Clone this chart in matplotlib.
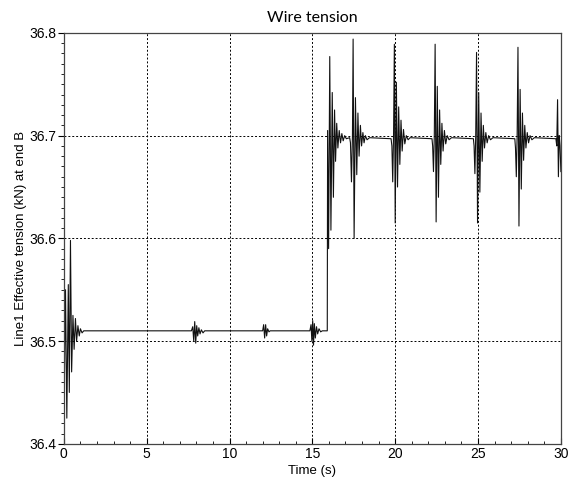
import matplotlib
matplotlib.use("Agg")
import matplotlib.pyplot as plt
from matplotlib.ticker import MultipleLocator

# time (s) and tension (kN)
time_s = [
    0.00, 0.10, 0.18, 0.27, 0.33, 0.40, 0.47, 0.55, 0.62, 0.70, 0.77, 0.85, 0.93, 1.00, 1.10, 1.20,
    7.70, 7.78, 7.84, 7.90, 7.96, 8.02, 8.08, 8.15, 8.22, 8.30, 8.40, 8.50,
    12.00, 12.06, 12.12, 12.18, 12.24, 12.30, 12.38, 12.45,
    14.85, 14.92, 14.97, 15.02, 15.07, 15.12, 15.18, 15.25, 15.32, 15.40, 15.50, 15.60,
    15.90, 15.92, 15.98, 16.05, 16.12, 16.20, 16.27, 16.34, 16.40, 16.47, 16.54, 16.62, 16.70, 16.78,
    16.86, 16.95, 17.05,
    17.25, 17.30, 17.36, 17.42, 17.46, 17.52, 17.60, 17.68, 17.75, 17.82, 17.90, 17.97, 18.05, 18.12,
    18.20, 18.30, 18.45,
    19.75, 19.80, 19.85, 19.90, 19.95, 20.00, 20.07, 20.14, 20.21, 20.28, 20.35, 20.42, 20.50, 20.58,
    20.67, 20.78, 20.90,
    22.22, 22.26, 22.31, 22.36, 22.41, 22.47, 22.54, 22.61, 22.68, 22.75, 22.82, 22.89, 22.97, 23.05,
    23.14, 23.25, 23.40,
    24.72, 24.76, 24.81, 24.86, 24.91, 24.97, 25.04, 25.11, 25.18, 25.25, 25.32, 25.39, 25.47, 25.55,
    25.64, 25.75, 25.90,
    27.22, 27.26, 27.31, 27.36, 27.41, 27.47, 27.54, 27.61, 27.68, 27.75, 27.82, 27.89, 27.97, 28.05,
    28.14, 28.25, 28.40,
    29.70, 29.75, 29.80, 29.85, 29.90, 29.95, 30.00,
]
tension_kn = [
    36.420, 36.550, 36.425, 36.555, 36.450, 36.598, 36.470, 36.525, 36.492, 36.522, 36.500, 36.515,
    36.505, 36.512, 36.508, 36.510,
    36.510, 36.514, 36.500, 36.519, 36.498, 36.515, 36.505, 36.513, 36.507, 36.511, 36.508, 36.510,
    36.510, 36.516, 36.503, 36.516, 36.505, 36.512, 36.509, 36.510,
    36.510, 36.516, 36.500, 36.520, 36.496, 36.517, 36.503, 36.514, 36.507, 36.512, 36.509, 36.510,
    36.510, 36.705, 36.590, 36.777, 36.608, 36.742, 36.640, 36.725, 36.675, 36.712, 36.688, 36.705,
    36.693, 36.702, 36.695, 36.700, 36.697,
    36.698, 36.693, 36.655, 36.700, 36.794, 36.600, 36.737, 36.662, 36.722, 36.680, 36.710, 36.690,
    36.703, 36.693, 36.700, 36.696, 36.698,
    36.697, 36.690, 36.655, 36.700, 36.789, 36.615, 36.752, 36.650, 36.728, 36.672, 36.715, 36.685,
    36.706, 36.692, 36.700, 36.696, 36.698,
    36.697, 36.690, 36.665, 36.700, 36.789, 36.616, 36.748, 36.640, 36.725, 36.672, 36.712, 36.685,
    36.705, 36.692, 36.700, 36.696, 36.698,
    36.697, 36.690, 36.663, 36.700, 36.781, 36.615, 36.742, 36.645, 36.722, 36.675, 36.710, 36.688,
    36.703, 36.693, 36.700, 36.696, 36.698,
    36.697, 36.688, 36.660, 36.700, 36.786, 36.612, 36.745, 36.648, 36.722, 36.676, 36.710, 36.688,
    36.703, 36.693, 36.700, 36.696, 36.698,
    36.697, 36.690, 36.735, 36.660, 36.700, 36.690, 36.665,
]

fig = plt.figure(figsize=(5.7, 4.84), dpi=100)
ax = fig.add_axes([0.112, 0.083, 0.872, 0.849])

ax.plot(time_s, tension_kn, color="#111111", lw=0.8)

# layout
ax.set_xlim(0, 30)
ax.set_ylim(36.4, 36.8)
ax.xaxis.set_major_locator(MultipleLocator(5))
ax.xaxis.set_minor_locator(MultipleLocator(1))
ax.yaxis.set_major_locator(MultipleLocator(0.1))
ax.yaxis.set_minor_locator(MultipleLocator(0.01))
ax.tick_params(axis="x", which="both", direction="in", pad=2)
ax.tick_params(axis="y", which="both", direction="out", pad=1)
ax.tick_params(which="major", length=4, width=0.8)
ax.tick_params(which="minor", length=2, width=0.6)
for lbl in ax.get_xticklabels() + ax.get_yticklabels():
    lbl.set_fontfamily("Liberation Sans")
    lbl.set_fontsize(10)
ax.grid(True, which="major", color="black", ls=(0, (2, 2)), lw=0.7)
for sp in ax.spines.values():
    sp.set_color("#444444")
    sp.set_linewidth(0.9)

ax.set_xlabel("Time (s)", family="Liberation Sans", fontsize=9.5, labelpad=3)
ax.set_ylabel("Line1 Effective tension (kN) at end B", family="Liberation Sans", fontsize=9.5,
              labelpad=2)
ax.set_title("Wire tension", family="Lato", fontsize=11.5, pad=8)

plt.savefig("out.png", dpi=100)
